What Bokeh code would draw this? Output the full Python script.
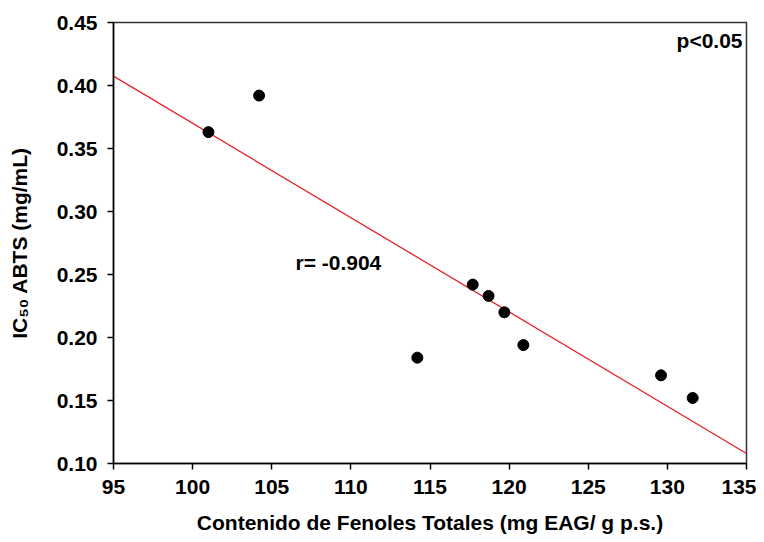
import numpy as np
from bokeh.plotting import figure
from bokeh.models import Label, FixedTicker, PrintfTickFormatter, Range1d
from bokeh.embed import file_html
from bokeh.resources import INLINE

# Data
fenoles = [101.0, 104.2, 114.2, 117.7, 118.7, 119.7, 120.9, 129.6, 131.6]
ic50 = [0.363, 0.392, 0.184, 0.242, 0.233, 0.220, 0.194, 0.170, 0.152]
x_ticks = [95, 100, 105, 110, 115, 120, 125, 130, 135]
y_ticks = [0.10, 0.15, 0.20, 0.25, 0.30, 0.35, 0.40, 0.45]
x_fit = [95, 135]

slope, intercept = np.polyfit(fenoles, ic50, 1)
y_fit = [slope * v + intercept for v in x_fit]

FONT = "Liberation Sans"
FS = "21px"
W, H = 756, 540

p = figure(width=W, height=H, output_backend="svg", toolbar_location=None,
           x_range=Range1d(95, 135), y_range=Range1d(0.10, 0.45),
           min_border_left=113, min_border_right=W - 746, min_border_top=22,
           min_border_bottom=H - 463)

p.background_fill_color = "white"
p.border_fill_color = "white"
p.outline_line_color = "#333333"
p.outline_line_width = 1.5
p.grid.visible = False

for ax in (p.xaxis, p.yaxis):
    ax.axis_line_color = "black"
    ax.axis_line_width = 1.5
    ax.major_tick_line_color = "black"
    ax.major_tick_line_width = 1.5
    ax.major_tick_out = 6
    ax.major_tick_in = 0
    ax.minor_tick_line_color = None
    ax.major_label_text_font = FONT
    ax.major_label_text_font_style = "bold"
    ax.major_label_text_font_size = FS
    ax.major_label_text_color = "black"
    ax.axis_label_text_font = FONT
    ax.axis_label_text_font_style = "bold"
    ax.axis_label_text_font_size = FS
    ax.axis_label_text_color = "black"

p.xaxis.ticker = FixedTicker(ticks=x_ticks)
p.yaxis.ticker = FixedTicker(ticks=y_ticks)
p.yaxis.formatter = PrintfTickFormatter(format="%.2f")
p.xaxis.major_label_standoff = 10
p.yaxis.major_label_standoff = 10

p.xaxis.axis_label = "Contenido de Fenoles Totales (mg EAG/ g p.s.)"
p.xaxis.axis_label_standoff = 14
p.yaxis.axis_label = "IC\u2085\u2080 ABTS (mg/mL)"
p.yaxis.axis_label_standoff = 23

p.line(x_fit, y_fit, line_color="#e8202a", line_width=1.3)
p.scatter(fenoles, ic50, size=11, color="black")

txt = dict(text_font=FONT, text_font_style="bold", text_color="black", text_font_size=FS)
p.add_layout(Label(x=134.75, y=0.4357, text="p<0.05", text_align="right",
                   text_baseline="middle", **txt))
p.add_layout(Label(x=106.5, y=0.2595, text="r= -0.904", text_align="left",
                   text_baseline="middle", **txt))

open("out.html", "w").write(file_html(p, INLINE))
